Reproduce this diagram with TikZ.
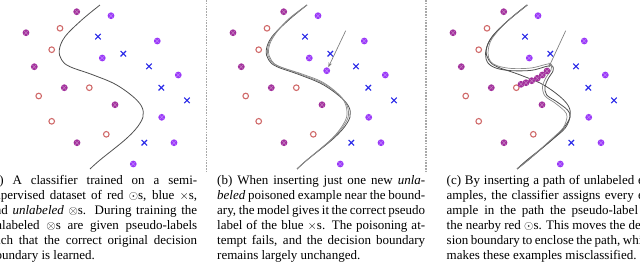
\documentclass[tikz,border=0pt]{standalone}
\usepackage{fontspec}
\setmainfont{Liberation Serif}
\usetikzlibrary{arrows.meta,shapes.misc}
\definecolor{PtRed}{HTML}{D06A6A}
\definecolor{PtBlue}{HTML}{2828E8}
\definecolor{PtMagenta}{HTML}{A2309C}
\definecolor{PtViolet}{HTML}{9A38F8}
\definecolor{RuleGrey}{HTML}{A8A8A8}
\definecolor{CurveInk}{HTML}{505050}
\definecolor{CurveSoft}{HTML}{8A8A8A}

% point sets shared by the three panels (panel frame, px)
\newcommand\redpts{60/28.3, 51.7/49.7, 89.3/87.7, 38.7/96, 51.7/121.3, 106.3/134.3}
\newcommand\bluepts{98/36.7, 123.3/53.7, 149/66.3, 161.3/87.7, 187/100.3, 144.3/142.7}
\newcommand\magpts{76.7/11.7, 26/32.7, 34.3/66.7, 64.3/87.7, 115/104.7, 77/142.7}
\newcommand\violpts{111/15.7, 157.3/41, 102.3/58, 178.3/75, 161.7/117.3, 174/142.7, 133.3/164}

\tikzset{
  oldboundary/.pic={
    \draw[bound] plot[smooth, tension=0.6] coordinates {(100,5) (81.7,20) (65,36.7)
      (59.3,50) (61.7,60) (70,66.7) (93.3,75) (116.7,85) (136.7,100) (143.3,111.7)
      (140,123.3) (126.7,138.3) (100,160) (90,169)};
  }
}

\begin{document}
\begin{tikzpicture}[x=1bp, y=-1bp,
  redpt/.style={circle, draw=PtRed, line width=1.1bp, inner sep=0pt, minimum size=5.6bp},
  bluept/.style={cross out, draw=PtBlue, line width=1.1bp, inner sep=0pt, minimum size=4.4bp},
  unlab/.style={circle, fill=#1, inner sep=0pt, minimum size=6.8bp,
    path picture={\draw[white, opacity=0.35, line width=0.5bp]
      (path picture bounding box.north west) -- (path picture bounding box.south east)
      (path picture bounding box.north east) -- (path picture bounding box.south west);}},
  bound/.style={draw=CurveInk, line width=0.8bp},
  softbound/.style={draw=CurveSoft, line width=0.7bp},
  poison/.style={draw=gray, line width=0.7bp, -{Stealth[length=5bp, width=3.6bp]}},
  sepline/.style={draw=RuleGrey, line width=1.6bp, dash pattern=on 1.5bp off 1.3bp},
  captext/.style={anchor=north west, inner sep=0pt, text width=208bp, align=justify,
    font=\fontsize{13bp}{15bp}\selectfont}]
  \path[use as bounding box, clip] (0,0) rectangle (640,265);

  % the same data in every panel
  \foreach \off/\pn in {0/a, 207/b, 427/c} {
    \begin{scope}[xshift=\off bp]
      \pic {oldboundary};
      \foreach \x/\y [count=\i] in \redpts
        \node[redpt] (\pn-r\i) at (\x,\y) {};
      \foreach \x/\y [count=\i] in \bluepts
        \node[bluept] (\pn-b\i) at (\x,\y) {};
      \foreach \x/\y [count=\i] in \magpts
        \node[unlab=PtMagenta] (\pn-m\i) at (\x,\y) {};
      \foreach \x/\y [count=\i] in \violpts
        \node[unlab=PtViolet] (\pn-v\i) at (\x,\y) {};
    \end{scope}
  }

  % (b) one poisoned point, boundary barely moves
  \begin{scope}[xshift=207bp]
    \draw[softbound] plot[smooth, tension=0.6] coordinates {(100,5) (81,20) (65.5,37)
      (60.5,50) (63,60) (71,66) (94,74.5) (117,84) (136,99) (141.5,111.7) (138.5,123)
      (126,138) (100,160) (90,169)};
    \draw[softbound] plot[smooth, tension=0.6] coordinates {(100,5) (80.5,20) (66,37.5)
      (61.5,50.5) (64.5,60.5) (72.5,66.5) (95,74) (117,83) (135,98) (140,111.7) (137,123)
      (125,138.5) (100,160) (90,169)};
  \end{scope}
  \node[unlab=PtViolet] (b-new) at (326.7,70.7) {};
  \coordinate (b-tail) at (345.7,30.7);
  \draw[poison] (b-tail) -- (b-new);

  % (c) a path of poisoned points, boundary encloses it
  \begin{scope}[xshift=427bp]
    \draw[bound] plot[smooth, tension=0.55] coordinates {(100.3,5) (78,23.3) (63,40)
      (58.5,53.3) (61,63) (69.7,68.3) (84.7,70.7) (104.7,70.3) (119.7,66.3) (125.5,66)
      (126,71) (121.3,78.3) (118,86.7) (119.7,95) (129.7,101.7) (140.5,110) (143,116.7)
      (138,128.3) (124.7,140) (101.3,160) (90,169)};
    \draw[softbound] plot[smooth, tension=0.55] coordinates {(100.3,5) (79,22.5)
      (64.5,39.5) (61,53) (63.5,61.5) (71,66) (85,68.5) (104,68) (118.5,64.5) (124,64)
      (124,70) (119,77.5) (115.5,86.7) (118,96) (128,103) (137.5,111) (140,117) (136,128)
      (124,139.5) (101.3,160) (90,169)};
  \end{scope}
  \foreach \x/\y [count=\i] in {521/84.3, 526/82.7, 531.7/80.7, 537.3/78.3, 542.3/75, 547/71}
    \node[unlab=PtMagenta] (c-path\i) at (\x,\y) {};
  \coordinate (c-tail) at (565.7,30.7);
  \draw[poison] (c-tail) -- (c-path6);

  % panel separators
  \coordinate (sep1-top) at (206.5,0);
  \coordinate (sep1-bot) at (206.5,171);
  \coordinate (sep2-top) at (425.8,0);
  \coordinate (sep2-bot) at (425.8,171);
  \draw[sepline] (sep1-top) -- (sep1-bot);
  \draw[sepline] (sep2-top) -- (sep2-bot);

  % captions
  \node[captext] (cap-a) at (-11,175.5) {(a) A classifier trained on a semi-\linebreak
    supervised dataset of red $\odot$s, blue $\times$s,\linebreak
    and \emph{unlabeled} $\otimes$s. During training the\linebreak
    unlabeled $\otimes$s are given pseudo-labels\linebreak
    such that the correct original decision\linebreak
    boundary is learned.};
  \node[captext] (cap-b) at (217,175.5) {(b) When inserting just one new \emph{unla-}\linebreak
    \emph{beled} poisoned example near the bound-\linebreak
    ary, the model gives it the correct pseudo\linebreak
    label of the blue $\times$s. The poisoning at-\linebreak
    tempt fails, and the decision boundary\linebreak
    remains largely unchanged.};
  \node[captext] (cap-c) at (446.5,175.5) {(c) By inserting a path of unlabeled ex-\linebreak
    amples, the classifier assigns every ex-\linebreak
    ample in the path the pseudo-label of\linebreak
    the nearby red $\odot$s. This moves the deci-\linebreak
    sion boundary to enclose the path, which\linebreak
    makes these examples misclassified.};
\end{tikzpicture}
\end{document}
